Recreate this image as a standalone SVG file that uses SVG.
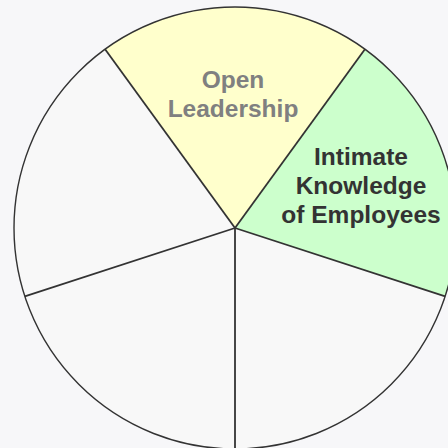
<svg xmlns="http://www.w3.org/2000/svg" width="448" height="448" viewBox="0 0 448 448">
<style>
.seg{stroke:none}
.spoke{stroke:#333;stroke-width:1.8;fill:none}
.rim{stroke:#333;stroke-width:1.4;fill:none}
.lbl{font-family:"Liberation Sans",Arial,sans-serif;font-weight:bold;font-size:24.5px;text-anchor:middle}
</style>
<rect width="448" height="448" fill="#f7f7f9"/>
<g id="wheel">
<circle cx="235" cy="228" r="221" fill="#f8f8f8"/>
<g id="open-leadership">
<path class="seg" d="M235,228 L105.1,49.21 A221,221 0 0 1 364.9,49.21 Z" fill="#ffffcc"/>
<text class="lbl" fill="#808080" x="233" y="88">Open</text>
<text class="lbl" fill="#808080" x="233" y="116.5">Leadership</text>
</g>
<g id="intimate-knowledge">
<path class="seg" d="M235,228 L364.9,49.21 A221,221 0 0 1 445.18,296.29 Z" fill="#ccffcc"/>
<text class="lbl" fill="#333333" x="361" y="165">Intimate</text>
<text class="lbl" fill="#333333" x="361" y="193.5">Knowledge</text>
<text class="lbl" fill="#333333" x="361" y="222.5">of Employees</text>
</g>
</g>
<g id="connectors">
<line class="spoke" x1="235" y1="228" x2="105.1" y2="49.21"/>
<line class="spoke" x1="235" y1="228" x2="364.9" y2="49.21"/>
<line class="spoke" x1="235" y1="228" x2="445.18" y2="296.29"/>
<line class="spoke" x1="235" y1="228" x2="235" y2="449"/>
<line class="spoke" x1="235" y1="228" x2="24.82" y2="296.29"/>
<circle class="rim" cx="235" cy="228" r="221"/>
</g>
</svg>
